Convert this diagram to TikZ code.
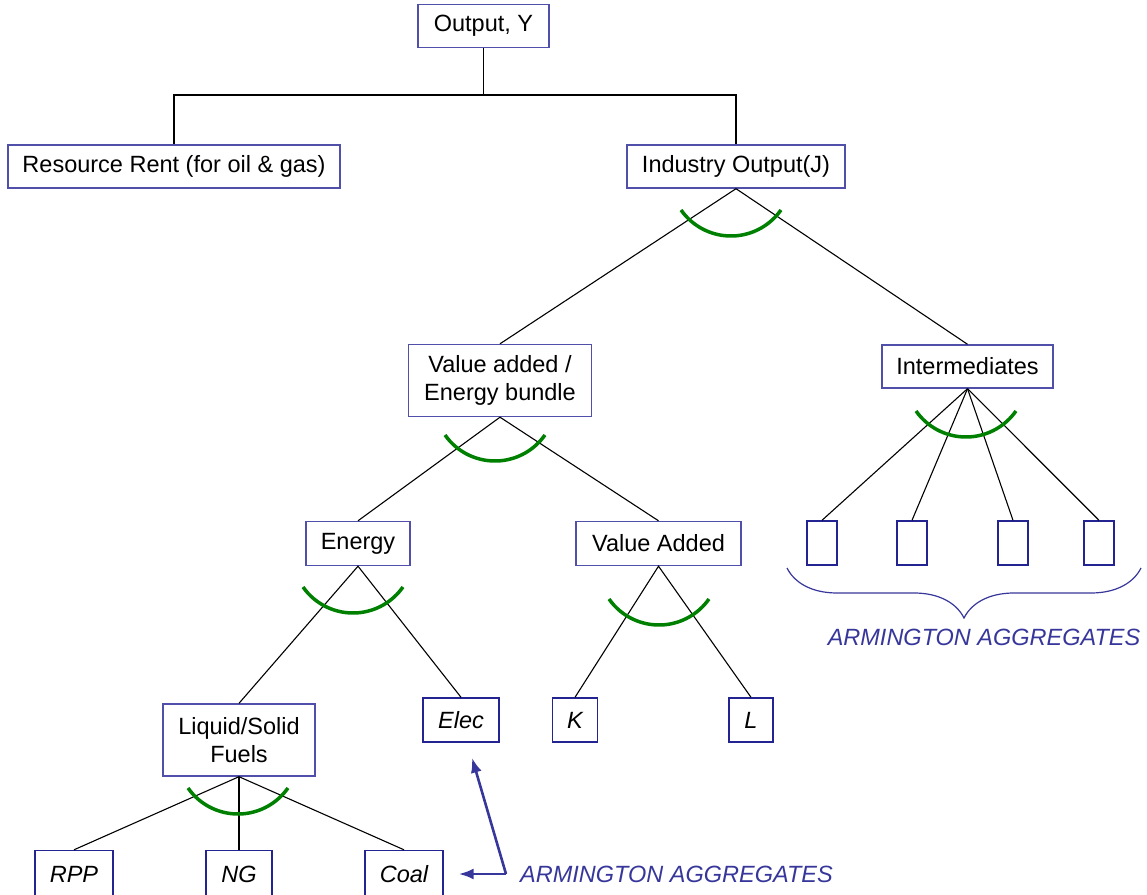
\documentclass[tikz,border=0pt]{standalone}
\usepackage{fontspec}
\setmainfont{Liberation Sans}
\usetikzlibrary{positioning}
\usetikzlibrary{calc}
\usetikzlibrary{arrows.meta}
\usetikzlibrary{decorations.pathreplacing}
\definecolor{BoxBlue}{RGB}{80,80,170}
\definecolor{LeafBlue}{RGB}{35,35,145}
\definecolor{ArmBlue}{RGB}{55,55,155}
\definecolor{Green}{rgb}{0,0.5,0}

\begin{document}
\begin{tikzpicture}[>={Latex[length=15pt,width=11pt]},x=1pt,y=1pt,
  box/.style={draw=BoxBlue,line width=1.4pt,fill=white,minimum height=43pt,inner sep=2pt,align=center,font=\fontsize{23.5}{28}\selectfont},
  leaf/.style={box,draw=LeafBlue,minimum height=44pt,font=\fontsize{23.5}{28}\selectfont\itshape},
  link/.style={line width=1.1pt},
  ces/.style={Green,line width=3.5pt},
  arm/.style={ArmBlue,font=\fontsize{23.5}{28}\selectfont\itshape},
  armline/.style={ArmBlue,line width=2.6pt,->}]
\useasboundingbox (0,0) rectangle (1147,894);

\node[box,minimum width=131pt] at (483.5,868) (out) {Output, Y};
\node[box,minimum width=332pt] at (174,727.5) (rent) {Resource Rent (for oil \& gas)};
\node[box,minimum width=218pt] at (736,727.5) (ind) {Industry Output(J)};
\node[box,minimum width=183pt,minimum height=72pt] at (500,513.5) (vae) {Value added /\\Energy bundle};
\node[box,minimum width=171pt] at (967.5,527.5) (inter) {Intermediates};
\node[box,minimum width=104pt,minimum height=44pt] at (358,350.5) (energy) {Energy};
\node[box,minimum width=165pt,minimum height=44pt] at (658.5,350.5) (va) {Value Added};
\node[box,minimum width=152pt,minimum height=72pt] at (239,154) (liq) {Liquid/Solid\\Fuels};
\node[leaf,minimum width=76pt] at (461,174) (elec) {Elec};
\node[leaf,minimum width=45pt] at (575,174) (k) {K};
\node[leaf,minimum width=44pt] at (751,174) (l) {L};
\node[leaf,minimum width=78pt,minimum height=47pt] at (74,20) (rpp) {RPP};
\node[leaf,minimum width=66pt,minimum height=47pt] at (239,20) (ng) {NG};
\node[leaf,minimum width=78pt,minimum height=47pt] at (404,20) (coal) {Coal};

\coordinate (split) at (483.5,799);
\draw[link] (out) -- (split);
\draw[link] (rent.north) |- (split) -| (ind.north);
\draw[link] (vae.north) -- (ind.south) -- (inter.north);
\draw[link] (energy.north) -- (vae.south) -- (va.north);
\draw[link] (liq.north) -- (energy.south) -- (elec.north);
\draw[link] (k.north) -- (va.south) -- (l.north);
\foreach \c in {rpp,ng,coal}
  \draw[link] (liq.south) -- (\c.north);

\foreach \x [count=\i] in {822,912,1013,1099} {
  \node[leaf,minimum width=30pt,inner sep=0pt] at (\x,351) (agg\i) {};
  \draw[link] (inter.south) -- (agg\i.north);
}

% elasticity arcs
\foreach \x/\y in {731/658, 495/433, 966/457, 353/281, 659/269, 238/80}
  \draw[ces] (\x,\y) ++(-50,26) arc[start angle=215,end angle=325,radius=61];

\draw[ArmBlue,line width=1.2pt,decorate,decoration={brace,mirror,amplitude=50pt}] (787,326) -- (1141,326);
\node[arm] at (984,257) (armI) {ARMINGTON AGGREGATES};

\node[arm,anchor=west,inner sep=0pt] at (520,20) (armE) {ARMINGTON AGGREGATES};
\coordinate (fork) at (506,20);
\draw[armline] (fork) -- ([xshift=15pt]coal.east);
\draw[armline] (fork) -- ([xshift=11pt,yshift=-15pt]elec.south);
\end{tikzpicture}
\end{document}
